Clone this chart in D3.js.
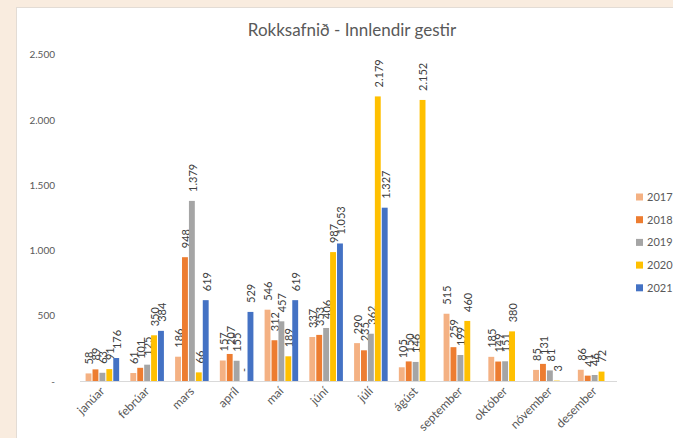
<!DOCTYPE html>
<html>
<head>
<meta charset="utf-8">
<script src="https://cdn.jsdelivr.net/npm/d3@7"></script>
<style>
  body { margin: 0; background: #f9ecdf; }
  svg { display: block; font-family: Lato, "Open Sans", sans-serif; }
</style>
</head>
<body>
<script>
var months = ["janúar", "febrúar", "mars", "apríl", "maí", "júní", "júlí", "ágúst", "september", "október", "nóvember", "desember"];
var years = ["2017", "2018", "2019", "2020", "2021"];
var v2017 = [58, 61, 186, 157, 546, 337, 290, 105, 515, 185, 85, 86];
var v2018 = [89, 101, 948, 207, 312, 353, 235, 150, 259, 149, 131, 41];
var v2019 = [63, 125, 1379, 155, 457, 406, 362, 146, 199, 151, 81, 46];
var v2020 = [91, 350, 66, 0, 189, 987, 2179, 2152, 460, 380, 3, 72];
var v2021 = [176, 384, 619, 529, 619, 1053, 1327, null, null, null, null, null];
var yTicks = [0, 500, 1000, 1500, 2000, 2500];

var series = [v2017, v2018, v2019, v2020, v2021];
var data = months.map(function(m, i) {
  return { month: m, values: years.map(function(yr, j) { return { year: yr, value: series[j][i] }; }) };
});

var W = 673, H = 438;
var plotLeft = 80, plotRight = 617, plotBottom = 381, plotTop = 54.5;

var loc = d3.formatLocale({ decimal: ",", thousands: ".", grouping: [3], currency: ["", ""] });
var fmt = function(v) { return v === 0 ? "-" : loc.format(",")(v); };

var x0 = d3.scaleBand().domain(months).range([plotLeft, plotRight]).paddingInner(0.25).paddingOuter(0.125);
var x1 = d3.scaleBand().domain(years).range([0, x0.bandwidth()]).paddingInner(0.15);
var y = d3.scaleLinear().domain([0, 2500]).range([plotBottom, plotTop]);

var color = d3.scaleOrdinal().domain(years).range(["#f4b183", "#ed7d31", "#a5a5a5", "#ffc000", "#4472c4"]);

var svg = d3.select("body").append("svg").attr("width", W).attr("height", H);

// white chart panel
svg.append("rect").attr("x", 16.5).attr("y", 7.5).attr("width", W).attr("height", H)
    .attr("fill", "#fff").attr("stroke", "#e3dcd5");

svg.append("text")
    .attr("x", 352).attr("y", 36)
    .attr("text-anchor", "middle")
    .style("font-size", "17px").style("fill", "#595959")
    .text("Rokksafnið - Innlendir gestir");

// y axis labels only
var yAxis = d3.axisLeft(y).tickValues(yTicks).tickSize(0).tickPadding(0).tickFormat(fmt);
var ga = svg.append("g").attr("transform", "translate(55,0)").call(yAxis);
ga.select(".domain").remove();
ga.selectAll("text").style("font-size", "10px").style("fill", "#595959").style("font-family", "Lato, sans-serif");

// bars
var slice = svg.selectAll(".slice")
    .data(data)
  .enter().append("g")
    .attr("class", "slice")
    .attr("transform", function(d) { return "translate(" + x0(d.month) + ",0)"; });

var vals = slice.selectAll("g.v")
    .data(function(d) { return d.values.filter(function(e) { return e.value !== null; }); })
  .enter().append("g").attr("class", "v");

vals.append("rect")
    .attr("x", function(d) { return x1(d.year); })
    .attr("width", x1.bandwidth())
    .attr("y", function(d) { return y(d.value); })
    .attr("height", function(d) { return plotBottom - y(d.value); })
    .style("fill", function(d) { return color(d.year); });

vals.append("text")
    .attr("transform", function(d) {
      return "translate(" + (x1(d.year) + x1.bandwidth() / 2 + 1) + "," + (y(d.value) - 9) + ") rotate(-90)";
    })
    .attr("dy", "0.35em")
    .style("font-size", "11px").style("fill", "#404040")
    .text(function(d) { return fmt(d.value); });

// baseline
svg.append("line")
    .attr("x1", plotLeft).attr("x2", plotRight).attr("y1", plotBottom + 0.5).attr("y2", plotBottom + 0.5)
    .attr("stroke", "#d9d9d9");

// x axis labels
var xAxis = d3.axisBottom(x0).tickSize(0).tickPadding(0);
var gx = svg.append("g").attr("transform", "translate(0," + plotBottom + ")").call(xAxis);
gx.select(".domain").remove();
gx.selectAll("text")
    .attr("y", 0).attr("dy", 0)
    .attr("transform", "translate(3,11) rotate(-45)")
    .style("text-anchor", "end")
    .style("font-size", "12px").style("fill", "#595959").style("font-family", "Lato, sans-serif");

// legend
var legend = svg.selectAll(".legend")
    .data(years)
  .enter().append("g")
    .attr("class", "legend")
    .attr("transform", function(d, i) { return "translate(636," + (197 + i * 22.7) + ")"; });

legend.append("rect")
    .attr("x", 0).attr("y", -3.5).attr("width", 7).attr("height", 7)
    .style("fill", function(d) { return color(d); });

legend.append("text")
    .attr("x", 11).attr("dy", "0.35em")
    .style("font-size", "11px").style("fill", "#595959")
    .text(function(d) { return d; });
</script>
</body>
</html>
